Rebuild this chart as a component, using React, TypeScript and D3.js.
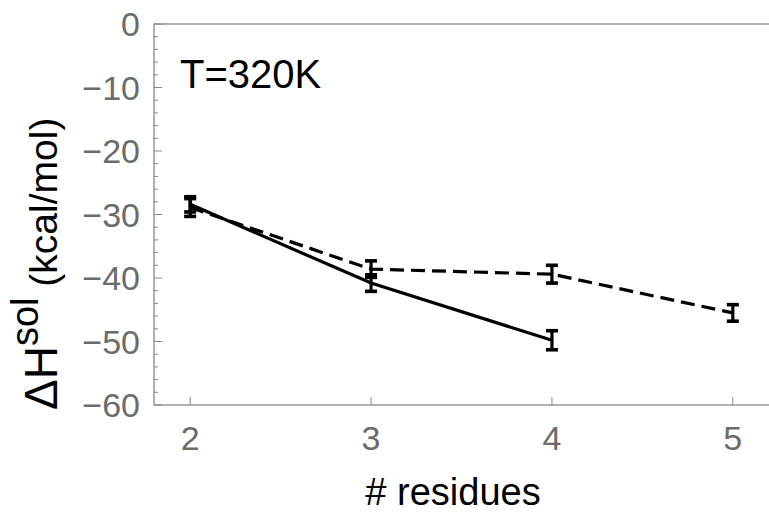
import React from "react";
import * as d3 from "d3";

const residues = [2, 3, 4, 5];
const solidValues = [-28.4, -40.8, -49.8];
const solidErrors = [1.2, 1.3, 1.5];
const dashedValues = [-28.9, -38.6, -39.4, -45.5];
const dashedErrors = [1.4, 1.3, 1.4, 1.3];
const yTicks = [0, -10, -20, -30, -40, -50, -60];
const xTicks = [2, 3, 4, 5];

const W = 769;
const H = 512;
const left = 154;
const right = 769;
const top = 24;
const bottom = 405;

export default function App() {
  const x = d3.scaleLinear().domain([1.8, 5.2]).range([left, right]);
  const y = d3.scaleLinear().domain([-60, 0]).range([bottom, top]);
  const line = d3
    .line<[number, number]>()
    .x((d) => x(d[0]))
    .y((d) => y(d[1]));
  const solid = solidValues.map((v, i) => [residues[i], v] as [number, number]);
  const dashed = dashedValues.map((v, i) => [residues[i], v] as [number, number]);
  const minor = d3.range(-60, 0.01, 2);
  const axisColor = "#888";
  const labelColor = "#6b6b6b";
  const font = "Liberation Sans, Arial, Helvetica, sans-serif";

  const errBar = (xv: number, v: number, e: number, key: string) => {
    const cx = x(xv);
    const y1 = y(v + e);
    const y2 = y(v - e);
    return (
      <g key={key} stroke="#000">
        <line x1={cx} x2={cx} y1={y1} y2={y2} strokeWidth={3.2} />
        <line x1={cx - 6} x2={cx + 6} y1={y1} y2={y1} strokeWidth={3.6} />
        <line x1={cx - 6} x2={cx + 6} y1={y2} y2={y2} strokeWidth={3.6} />
      </g>
    );
  };

  return (
    <svg
      width={W}
      height={H}
      style={{ position: "absolute", left: 0, top: 0, background: "#fff" }}
      fontFamily={font}
    >
      <rect x={0} y={0} width={W} height={H} fill="#fff" />
      {/* frame */}
      <rect
        x={left}
        y={top}
        width={right - left + 2}
        height={bottom - top}
        fill="none"
        stroke={axisColor}
        strokeWidth={1.3}
      />
      {/* y ticks */}
      {minor.map((t) => {
        const major = Math.abs(t % 10) < 1e-9;
        return (
          <line
            key={"yt" + t}
            x1={left}
            x2={left + (major ? 8 : 4)}
            y1={y(t)}
            y2={y(t)}
            stroke={axisColor}
            strokeWidth={1}
          />
        );
      })}
      {yTicks.map((t) => (
        <text
          key={"yl" + t}
          x={140}
          y={y(t)}
          textAnchor="end"
          dominantBaseline="central"
          fontSize={34}
          fill={labelColor}
        >
          {t === 0 ? "0" : "\u2212" + Math.abs(t)}
        </text>
      ))}
      {/* x ticks */}
      {xTicks.map((t) => (
        <g key={"xt" + t}>
          <line
            x1={x(t)}
            x2={x(t)}
            y1={bottom}
            y2={bottom - 8}
            stroke={axisColor}
            strokeWidth={1}
          />
          <text
            x={x(t)}
            y={438}
            textAnchor="middle"
            dominantBaseline="central"
            fontSize={34}
            fill={labelColor}
          >
            {t}
          </text>
        </g>
      ))}
      {/* lines */}
      <path
        d={line(dashed) || ""}
        fill="none"
        stroke="#000"
        strokeWidth={3.2}
        strokeDasharray="14,7"
      />
      <path d={line(solid) || ""} fill="none" stroke="#000" strokeWidth={3.2} />
      {dashed.map((d, i) => errBar(d[0], d[1], dashedErrors[i], "de" + i))}
      {solid.map((d, i) => errBar(d[0], d[1], solidErrors[i], "se" + i))}
      {/* annotation */}
      <text x={180} y={88} fontSize={40} fill="#000">
        T=320K
      </text>
      {/* axis titles */}
      <text x={453} y={505} textAnchor="middle" fontSize={38} fill="#000">
        # residues
      </text>
      <text transform="translate(57,410) rotate(-90)" textAnchor="start" fill="#000">
        <tspan fontSize={46}>ΔH</tspan>
        <tspan fontSize={38} dy={-19}>sol</tspan>
        <tspan fontSize={39} dy={19}> (kcal/mol)</tspan>
      </text>
    </svg>
  );
}
